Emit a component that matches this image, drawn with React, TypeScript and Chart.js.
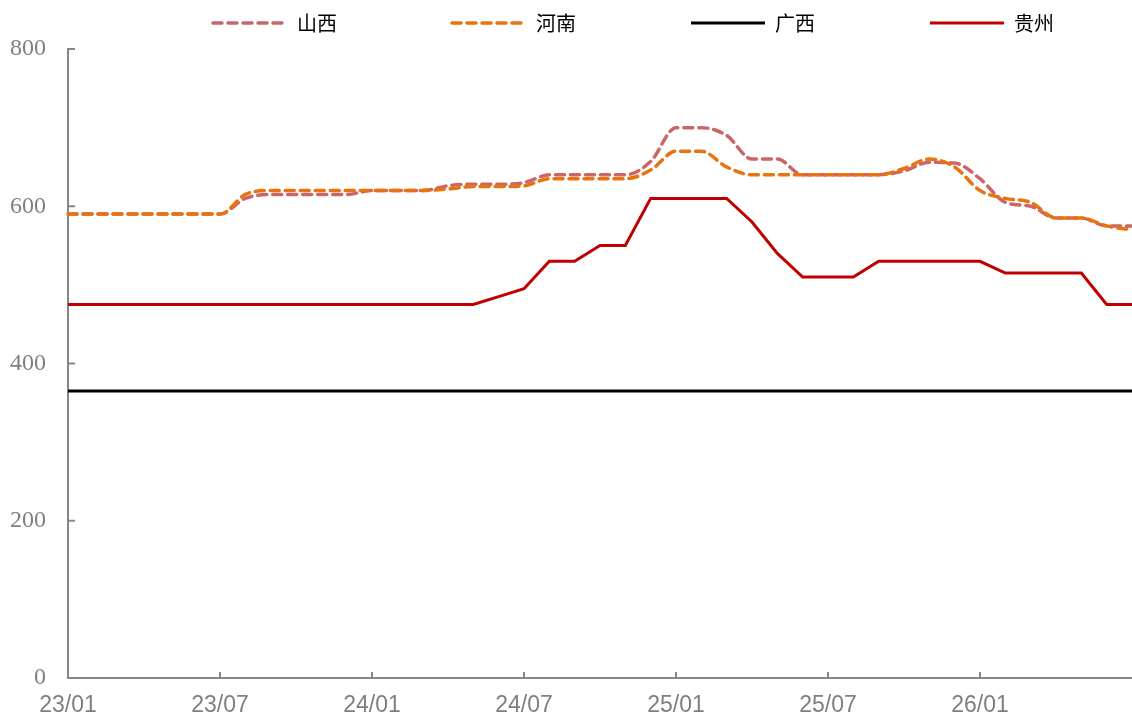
import { useEffect, useRef } from 'react';
import { Chart, registerables } from 'chart.js';

Chart.register(...registerables);

const categories = [
  '23/01', '23/02', '23/03', '23/04', '23/05', '23/06', '23/07', '23/08', '23/09', '23/10', '23/11', '23/12',
  '24/01', '24/02', '24/03', '24/04', '24/05', '24/06', '24/07', '24/08', '24/09', '24/10', '24/11', '24/12',
  '25/01', '25/02', '25/03', '25/04', '25/05', '25/06', '25/07', '25/08', '25/09', '25/10', '25/11', '25/12',
  '26/01', '26/02', '26/03', '26/04', '26/05', '26/06', '26/07',
];

const xTickLabels = ['23/01', '23/07', '24/01', '24/07', '25/01', '25/07', '26/01'];

const shanxi = [
  590, 590, 590, 590, 590, 590, 590, 610, 615, 615, 615, 615,
  620, 620, 620, 626, 628, 628, 630, 640, 640, 640, 640, 657,
  700, 700, 690, 660, 660, 640, 640, 640, 640, 645, 656, 655,
  635, 605, 600, 585, 585, 575, 575,
];

const henan = [
  590, 590, 590, 590, 590, 590, 590, 615, 620, 620, 620, 620,
  620, 620, 620, 622, 625, 625, 626, 635, 635, 635, 635, 646,
  670, 670, 650, 640, 640, 640, 640, 640, 640, 648, 660, 650,
  620, 610, 605, 585, 585, 575, 570,
];

const guangxi = [
  365, 365, 365, 365, 365, 365, 365, 365, 365, 365, 365, 365,
  365, 365, 365, 365, 365, 365, 365, 365, 365, 365, 365, 365,
  365, 365, 365, 365, 365, 365, 365, 365, 365, 365, 365, 365,
  365, 365, 365, 365, 365, 365, 365,
];

const guizhou = [
  475, 475, 475, 475, 475, 475, 475, 475, 475, 475, 475, 475,
  475, 475, 475, 475, 475, 485, 495, 530, 530, 550, 550, 610,
  610, 610, 610, 580, 540, 510, 510, 510, 530, 530, 530, 530,
  530, 515, 515, 515, 515, 475, 475,
];

const yTicks = [0, 200, 400, 600, 800];

const AXIS = '#868686';
const LABEL = '#7f7f7f';

const seriesStyles = [
  { label: '山西', color: '#CC6666', dash: [9, 6], width: 3.5 },
  { label: '河南', color: '#E8730F', dash: [9, 6], width: 3.5 },
  { label: '广西', color: '#000000', dash: [] as number[], width: 3 },
  { label: '贵州', color: '#C00000', dash: [] as number[], width: 3 },
];

const legendLayout = { x0: 213, step: 239, lineLen: 74, gap: 10, y: 23 };

const innerTicks = {
  id: 'innerTicks',
  beforeDatasetsDraw(chart: any) {
    const { ctx, scales, chartArea } = chart;
    const x = scales.x;
    const y = scales.y;
    ctx.save();
    ctx.strokeStyle = AXIS;
    ctx.lineWidth = 2;
    yTicks.forEach((v) => {
      const py = y.getPixelForValue(v);
      ctx.beginPath();
      ctx.moveTo(chartArea.left, py);
      ctx.lineTo(chartArea.left + 7, py);
      ctx.stroke();
    });
    categories.forEach((c, i) => {
      if (i > 0 && xTickLabels.includes(c)) {
        const px = x.getPixelForValue(i);
        ctx.beginPath();
        ctx.moveTo(px, chartArea.bottom);
        ctx.lineTo(px, chartArea.bottom - 6);
        ctx.stroke();
      }
    });
    ctx.restore();
  },
};

const customLegend = {
  id: 'customLegend',
  afterDraw(chart: any) {
    const { ctx } = chart;
    ctx.save();
    seriesStyles.forEach((s, i) => {
      const x = legendLayout.x0 + i * legendLayout.step;
      const y = legendLayout.y;
      ctx.beginPath();
      ctx.strokeStyle = s.color;
      ctx.lineWidth = s.width;
      ctx.lineCap = s.dash.length ? 'round' : 'butt';
      ctx.setLineDash(s.dash);
      ctx.moveTo(x, y);
      ctx.lineTo(x + legendLayout.lineLen, y);
      ctx.stroke();
      ctx.setLineDash([]);
      ctx.fillStyle = '#000';
      ctx.font = '20px "Noto Sans CJK SC"';
      ctx.textAlign = 'left';
      ctx.textBaseline = 'middle';
      ctx.fillText(s.label, x + legendLayout.lineLen + legendLayout.gap, y);
    });
    ctx.restore();
  },
};

export default function App() {
  const ref = useRef<HTMLCanvasElement>(null);

  useEffect(() => {
    const values = [shanxi, henan, guangxi, guizhou];
    const orders = [1, 0, 2, 3];
    const chart = new Chart(ref.current as HTMLCanvasElement, {
      type: 'line',
      data: {
        labels: categories,
        datasets: seriesStyles.map((s, i) => ({
          label: s.label,
          data: values[i],
          borderColor: s.color,
          backgroundColor: s.color,
          borderWidth: s.width,
          borderDash: s.dash,
          borderCapStyle: s.dash.length ? 'round' : 'butt',
          pointRadius: 0,
          tension: s.dash.length ? 0.4 : 0,
          cubicInterpolationMode: s.dash.length ? 'monotone' : 'default',
          fill: false,
          order: orders[i],
        })),
      },
      options: {
        animation: false,
        responsive: true,
        maintainAspectRatio: false,
        layout: { padding: { top: 49, right: 0, left: 0, bottom: 0 } },
        plugins: {
          legend: { display: false },
          tooltip: { enabled: false },
        },
        events: [],
        scales: {
          x: {
            type: 'category',
            offset: false,
            grid: { display: false, drawTicks: false },
            border: { display: true, color: AXIS, width: 2 },
            ticks: {
              autoSkip: false,
              maxRotation: 0,
              minRotation: 0,
              padding: 14,
              color: LABEL,
              font: { family: '"Liberation Sans", Arial, sans-serif', size: 23 },
              callback: (_v: any, i: number) => (xTickLabels.includes(categories[i]) ? categories[i] : ''),
            },
            afterFit: (scale: any) => {
              scale.height = 40;
              scale.paddingRight = 0;
              scale.paddingLeft = 0;
            },
          },
          y: {
            min: 0,
            max: 800,
            grid: { display: false, drawTicks: false },
            border: { display: true, color: AXIS, width: 2 },
            ticks: {
              stepSize: 200,
              padding: 22,
              color: LABEL,
              font: { family: '"Liberation Serif", "Times New Roman", serif', size: 24 },
            },
            afterFit: (scale: any) => {
              scale.width = 68;
            },
          },
        },
      },
      plugins: [innerTicks, customLegend],
    });
    return () => chart.destroy();
  }, []);

  return (
    <div style={{ position: 'fixed', left: 0, top: 0, width: 1132, height: 718, background: '#fff' }}>
      <canvas ref={ref} />
    </div>
  );
}
